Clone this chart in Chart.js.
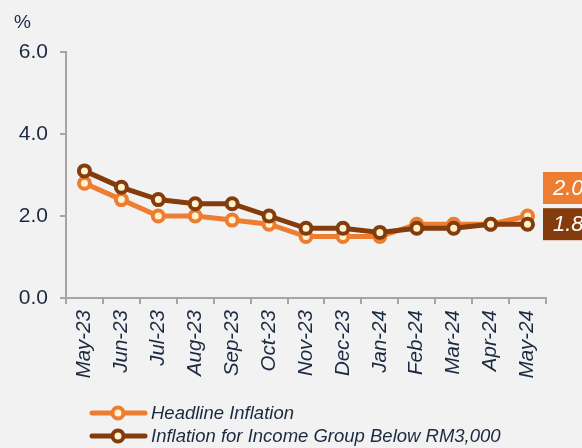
<!DOCTYPE html>
<html>
<head>
<meta charset="utf-8">
<script src="https://cdn.jsdelivr.net/npm/chart.js@4.4.1/dist/chart.umd.min.js"></script>
<style>
html, body { margin: 0; padding: 0; background: #F2F2F2; }
canvas { display: block; }
</style>
</head>
<body>
<canvas id="myChart" width="582" height="448"></canvas>
<script>
// データ
const months = ["May-23", "Jun-23", "Jul-23", "Aug-23", "Sep-23", "Oct-23", "Nov-23",
    "Dec-23", "Jan-24", "Feb-24", "Mar-24", "Apr-24", "May-24"];
const headline = [2.8, 2.4, 2.0, 2.0, 1.9, 1.8, 1.5, 1.5, 1.5, 1.8, 1.8, 1.8, 2.0];
const lowIncome = [3.1, 2.7, 2.4, 2.3, 2.3, 2.0, 1.7, 1.7, 1.6, 1.7, 1.7, 1.8, 1.8];
const seriesNames = ["Headline Inflation", "Inflation for Income Group Below RM3,000"];
const seriesColors = ["#ED7D31", "#843C0C"];
const yMin = 0, yMax = 6, yStep = 2;

const FONT = "'Liberation Sans', Arial, sans-serif";
const TEXT = "#1B2A41";
const AXIS = "#A6A6A6";
const POINT_FILL = "#FFF2CC";

// "%"・凡例・最終値ラベルを描くプラグイン
const extras = {
    id: "extras",
    afterDraw(chart) {
        const ctx = chart.ctx;
        const y = chart.scales.y;
        ctx.save();
        // 単位
        ctx.fillStyle = TEXT;
        ctx.font = "19px " + FONT;
        ctx.textBaseline = "middle";
        ctx.textAlign = "left";
        ctx.fillText("%", 14, 23);

        // 最終値ラベル
        const shifts = [-28, 0];
        chart.data.datasets.forEach((ds, i) => {
            const v = ds.data[ds.data.length - 1];
            const cy = y.getPixelForValue(v) + shifts[i];
            ctx.fillStyle = seriesColors[i];
            ctx.fillRect(543, cy - 16, 60, 32);
            ctx.fillStyle = "#FFFFFF";
            ctx.font = "italic 22px " + FONT;
            ctx.fillText(v.toFixed(1), 553, cy + 1);
        });

        // 凡例
        seriesNames.forEach((name, i) => {
            const ly = 413 + i * 23;
            ctx.strokeStyle = seriesColors[i];
            ctx.lineWidth = 5;
            ctx.lineCap = "round";
            ctx.beginPath();
            ctx.moveTo(92, ly);
            ctx.lineTo(145, ly);
            ctx.stroke();
            ctx.beginPath();
            ctx.arc(118, ly, 5.5, 0, Math.PI * 2);
            ctx.fillStyle = POINT_FILL;
            ctx.fill();
            ctx.lineWidth = 4;
            ctx.stroke();
            ctx.fillStyle = TEXT;
            ctx.font = "italic 18.5px " + FONT;
            ctx.fillText(name, 151, ly + 1);
        });
        ctx.restore();
    }
};

function lineDataset(label, data, color, order) {
    return {
        label,
        data,
        order,
        borderColor: color,
        borderWidth: 5,
        pointRadius: 5.5,
        pointBorderWidth: 4,
        pointBackgroundColor: POINT_FILL,
        pointBorderColor: color,
        tension: 0,
    };
}

const ctx = document.getElementById("myChart");
new Chart(ctx, {
    type: "line",
    data: {
        labels: months,
        datasets: [
            lineDataset(seriesNames[0], headline, seriesColors[0], 1),
            lineDataset(seriesNames[1], lowIncome, seriesColors[1], 0),
        ],
    },
    options: {
        responsive: false,
        animation: false,
        layout: { padding: { left: 0, top: 52, right: 36, bottom: 62 } },
        plugins: { legend: { display: false }, tooltip: { enabled: false } },
        scales: {
            x: {
                offset: true,
                grid: { offset: true, drawOnChartArea: false, color: AXIS, tickLength: 6, lineWidth: 2 },
                border: { color: AXIS, width: 2 },
                ticks: {
                    color: TEXT,
                    font: { family: FONT, size: 20.5, style: "italic" },
                    minRotation: 90,
                    maxRotation: 90,
                    padding: 6,
                },
                afterFit: (scale) => { scale.height = 88; },
            },
            y: {
                min: yMin,
                max: yMax,
                grid: { drawOnChartArea: false, color: AXIS, tickLength: 6, lineWidth: 2 },
                border: { color: AXIS, width: 2 },
                ticks: {
                    stepSize: yStep,
                    color: TEXT,
                    font: { family: FONT, size: 21 },
                    padding: 12,
                    callback: (v) => v.toFixed(1),
                },
                afterFit: (scale) => { scale.width = 66; },
            },
        },
    },
    plugins: [extras],
});
</script>
</body>
</html>
